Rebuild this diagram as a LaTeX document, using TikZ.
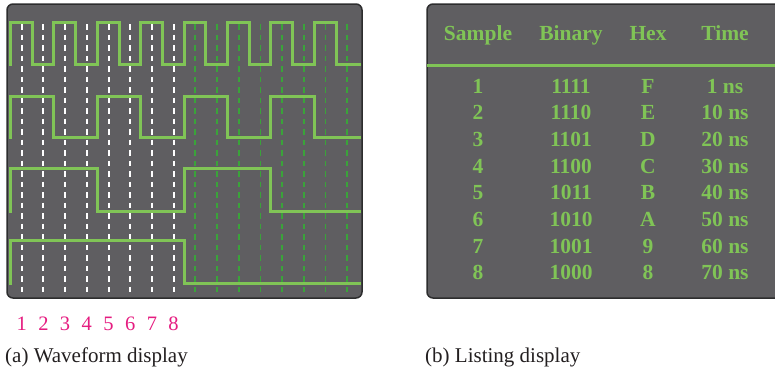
\documentclass[tikz,border=0pt]{standalone}
\usepackage{fontspec}
\setmainfont{Liberation Serif}
\definecolor{panel}{RGB}{95,94,97}
\definecolor{panelborder}{RGB}{45,45,46}
\definecolor{wavegreen}{RGB}{128,196,86}
\definecolor{dashgreen}{RGB}{58,163,58}
\definecolor{pinknum}{RGB}{229,28,128}
\definecolor{captxt}{RGB}{35,31,32}
\begin{document}
\begin{tikzpicture}[x=1pt,y=-1pt,
  panelbox/.style={fill=panel,draw=panelborder,line width=1.5pt,rounded corners=6pt},
  wave/.style={draw=wavegreen,line width=3pt,line join=miter},
  wdash/.style={draw=white,line width=2pt,dash pattern=on 5.5pt off 5pt},
  gdash/.style={draw=dashgreen,line width=1.7pt,dash pattern=on 5.5pt off 5pt},
  tabtxt/.style={text=wavegreen,font=\fontsize{21.5}{24}\selectfont\bfseries,anchor=base,inner sep=0pt},
  numtxt/.style={text=pinknum,font=\fontsize{20.5}{24}\selectfont,anchor=base,inner sep=0pt},
  captext/.style={text=captxt,font=\fontsize{21}{24}\selectfont,anchor=base west,inner sep=0pt},
  rule/.style={draw=wavegreen,line width=3pt}]
\useasboundingbox (0,0) rectangle (775,375);

% panels
\draw[panelbox] (7,4) rectangle (362,298);
\draw[panelbox] (427,4) rectangle (790,298);

% dashed sample lines
\foreach \k in {1,...,8}{\draw[wdash] (21.7*\k,24) -- (21.7*\k,295);}
\foreach \k in {9,...,16}{\draw[gdash] (21.7*\k,24) -- (21.7*\k,295);}

% waveforms
\draw[wave] (8.5,64) -- (10.5,64) -- (10.5,22) -- (32.2,22) -- (32.2,64) -- (53.9,64) -- (53.9,22) -- (75.6,22) -- (75.6,64) -- (97.3,64) -- (97.3,22) -- (119,22) -- (119,64) -- (140.7,64) -- (140.7,22) -- (162.4,22) -- (162.4,64) -- (184.1,64) -- (184.1,22) -- (205.8,22) -- (205.8,64) -- (227.5,64) -- (227.5,22) -- (249.2,22) -- (249.2,64) -- (270.9,64) -- (270.9,22) -- (292.6,22) -- (292.6,64) -- (314.3,64) -- (314.3,22) -- (336,22) -- (336,64) -- (361,64);
\draw[wave] (8.5,137) -- (10.5,137) -- (10.5,96) -- (53.9,96) -- (53.9,137) -- (97.3,137) -- (97.3,96) -- (140.7,96) -- (140.7,137) -- (184.1,137) -- (184.1,96) -- (227.5,96) -- (227.5,137) -- (270.9,137) -- (270.9,96) -- (314.3,96) -- (314.3,137) -- (361,137);
\draw[wave] (8.5,211) -- (10.5,211) -- (10.5,168) -- (97.3,168) -- (97.3,211) -- (184.1,211) -- (184.1,168) -- (270.9,168) -- (270.9,211) -- (361,211);
\draw[wave] (8.5,283) -- (10.5,283) -- (10.5,240) -- (184.1,240) -- (184.1,283) -- (361,283);

% sample numbers
\foreach \k in {1,...,8}{\node[numtxt] (n\k) at (21.7*\k,330) {\k};}

% table
\node[tabtxt] (hS) at (478,40.5) {Sample};
\node[tabtxt] (hB) at (571,40.5) {Binary};
\node[tabtxt] (hH) at (648,40.5) {Hex};
\node[tabtxt] (hT) at (725,40.5) {Time};
\draw[rule] (427,65) -- (780,65);
\foreach \s/\b/\h/\t [count=\i from 0] in {1/1111/F/1 ns,2/1110/E/10 ns,3/1101/D/20 ns,4/1100/C/30 ns,5/1011/B/40 ns,6/1010/A/50 ns,7/1001/9/60 ns,8/1000/8/70 ns}{
  \node[tabtxt] (s\s) at (478,93+26.7*\i) {\s};
  \node[tabtxt] (b\s) at (571,93+26.7*\i) {\b};
  \node[tabtxt] (x\s) at (648,93+26.7*\i) {\h};
  \node[tabtxt] (t\s) at (725,93+26.7*\i) {\t};
}

% captions
\node[captext] (capa) at (5,362) {(a) Waveform display};
\node[captext] (capb) at (425,362) {(b) Listing display};
\end{tikzpicture}
\end{document}
